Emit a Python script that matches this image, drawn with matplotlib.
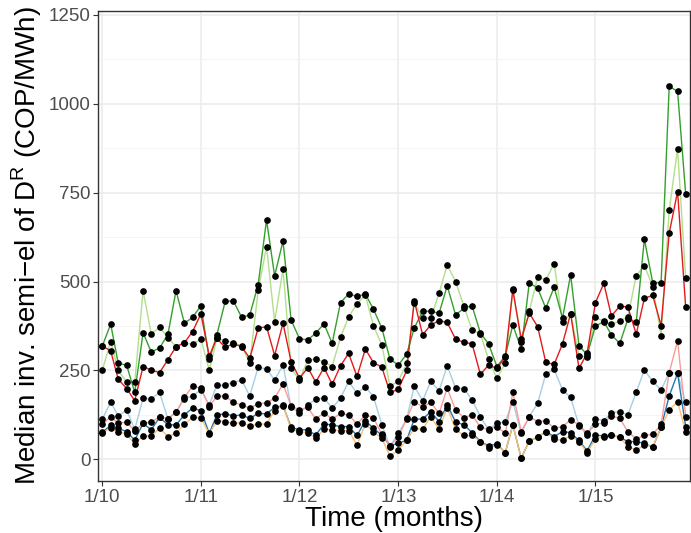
import numpy as np
import pandas as pd
import matplotlib
matplotlib.use("Agg")
import matplotlib.pyplot as plt

plt.rcParams['font.family'] = ['Liberation Sans', 'DejaVu Sans']
plt.rcParams['mathtext.fontset'] = 'custom'
plt.rcParams['mathtext.rm'] = 'Liberation Sans'

# monthly medians, Jan 2010 - Dec 2015
months = pd.date_range('2010-01-01', periods=72, freq='MS')

light_blue = [113, 161, 122, 139, 84, 172, 170, 188, 113, 134, 171, 178,
              195, 153, 208, 209, 216, 223, 178, 259, 254, 223, 265, 148,
              129, 153, 169, 172, 144, 172, 219, 186, 204, 176, 97, 36,
              73, 113, 206, 165, 219, 193, 263, 200, 199, 167, 120, 83,
              101, 106, 162, 73, 120, 158, 240, 253, 195, 174,
              95, 68, 114, 109, 131, 134, 125, 189, 251, 219, 195, 244, 242, 160]
dark_blue = [76, 96, 87, 78, 54, 101, 83, 118, 97, 97, 125, 144,
             137, 73, 125, 128, 122, 125, 115, 129, 128, 146, 151, 90,
             83, 83, 68, 99, 97, 92, 92, 67, 109, 87, 68, 38,
             45, 54, 113, 113, 134, 106, 153, 105, 97, 75, 50, 38,
             43, 19, 97, 3, 52, 62, 78, 64, 78, 75,
             53, 24, 68, 66, 68, 62, 50, 50, 45, 34, 90, 178, 242, 92]
light_green = [251, 331, 250, 217, 217, 474, 353, 371, 342, 317, 326, 324,
               338, 251, 340, 334, 328, 319, 270, 475, 598, 387, 535, 256,
               223, 280, 281, 275, 261, 343, 401, 437, 462, 375, 322, 206,
               219, 270, 441, 397, 397, 467, 547, 500, 430, 364, 353, 281,
               228, 270, 478, 331, 417, 512, 505, 550, 387, 408,
               292, 287, 399, 389, 380, 389, 401, 517, 545, 486, 348, 700, 874, 509]
dark_green = [319, 380, 270, 265, 188, 356, 302, 313, 352, 474, 383, 399,
              432, 281, 350, 444, 446, 399, 406, 491, 673, 516, 614, 392,
              339, 336, 355, 381, 326, 441, 465, 458, 465, 422, 369, 282,
              265, 296, 369, 417, 416, 411, 488, 406, 425, 432, 355, 325,
              261, 291, 378, 310, 497, 481, 425, 484, 397, 519,
              320, 294, 375, 387, 350, 326, 394, 386, 619, 497, 497, 1049, 1035, 747]
pink = [99, 120, 101, 105, 80, 101, 104, 120, 114, 132, 174, 206,
        200, 148, 178, 178, 160, 153, 144, 156, 159, 172, 212, 150,
        139, 146, 113, 131, 113, 129, 125, 99, 125, 117, 70, 38,
        62, 115, 162, 148, 160, 129, 200, 139, 117, 125, 90, 84,
        92, 73, 188, 78, 120, 106, 109, 87, 92, 111,
        97, 73, 98, 103, 122, 115, 78, 57, 68, 70, 98, 244, 333, 120]
red = [319, 305, 225, 199, 165, 261, 251, 244, 280, 317, 328, 359,
       409, 291, 340, 315, 325, 317, 284, 369, 373, 292, 383, 275,
       228, 258, 217, 258, 211, 263, 298, 233, 310, 272, 259, 188,
       197, 250, 446, 350, 378, 390, 385, 338, 329, 325, 239, 265,
       256, 287, 477, 338, 411, 373, 273, 267, 325, 410,
       256, 298, 441, 495, 403, 431, 428, 352, 453, 461, 376, 636, 753, 428]
orange = [75, 88, 78, 71, 43, 66, 66, 87, 64, 73, 99, 118,
          117, 71, 109, 106, 101, 103, 94, 99, 99, 137, 153, 84,
          78, 75, 59, 84, 83, 81, 81, 40, 99, 78, 59, 9,
          26, 54, 87, 84, 120, 84, 145, 84, 67, 67, 50, 33,
          40, 19, 97, 3, 52, 62, 78, 56, 54, 66,
          50, 19, 57, 64, 68, 62, 36, 26, 40, 36, 90, 139, 162, 78]

series = [light_blue, dark_blue, light_green, dark_green, pink, red, orange]
colors = ['#A6CEE3', '#1F78B4', '#B2DF8A', '#33A02C', '#FB9A99', '#E31A1C', '#FDBF6F']

fig = plt.figure(figsize=(6.91, 5.33), dpi=100)
ax = fig.add_axes([98/691, 1 - 481/533, 592/691, 470/533])

for vals, c in zip(series, colors):
    ax.plot(months, vals, color=c, lw=1.0, zorder=2)
for vals in series:
    ax.plot(months, vals, 'o', color='black', ms=3.8, zorder=3)

ax.set_ylim(-61, 1261)
ax.set_xlim(pd.Timestamp('2009-12-16'), pd.Timestamp('2015-12-17'))

ax.set_yticks([0, 250, 500, 750, 1000, 1250])
ax.set_yticks([125, 375, 625, 875, 1125], minor=True)
years = pd.date_range('2010-01-01', periods=6, freq='YS')
ax.set_xticks(years)
ax.set_xticklabels(['1/10', '1/11', '1/12', '1/13', '1/14', '1/15'])

ax.grid(True, which='major', color='#EBEBEB', lw=1.1, zorder=0)
ax.grid(True, which='minor', axis='y', color='#F2F2F2', lw=0.6, zorder=0)
ax.set_axisbelow(True)

for s in ax.spines.values():
    s.set_color('#333333')
    s.set_linewidth(1.0)
ax.tick_params(axis='both', which='major', labelsize=13.5, colors='#333333',
               labelcolor='#4D4D4D', length=3.5, width=0.8, pad=2)
ax.tick_params(axis='y', which='minor', length=0)

ax.set_xlabel('Time (months)', fontsize=20, labelpad=0)
ax.set_ylabel('Median inv. semi\u2212el of D$^{\\mathrm{R}}$ (COP/MWh)', fontsize=20, labelpad=3)

fig.savefig('out.png', dpi=100)
